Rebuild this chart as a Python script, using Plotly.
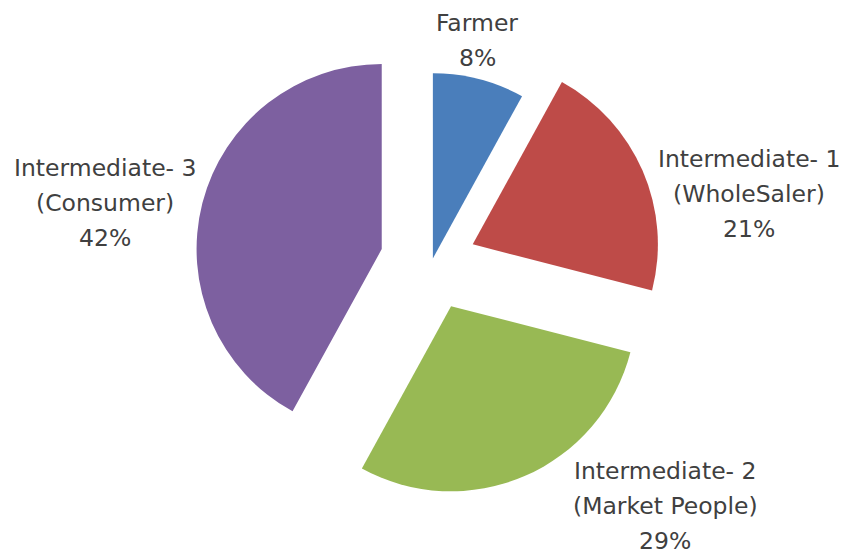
import plotly.graph_objects as go

categories = ["Farmer", "Intermediate- 1<br>(WholeSaler)", "Intermediate- 2<br>(Market People)", "Intermediate- 3<br>(Consumer)"]
values = [8, 21, 29, 42]

colors = ["#4A7EBB", "#BE4B48", "#98B954", "#7D60A0"]
pulls = [0.02, 0.24, 0.26, 0.28]

W, H = 842, 555
M = dict(l=0, r=0, t=25, b=56)
plot_h = H - M["t"] - M["b"]

fig = go.Figure(go.Pie(
    labels=categories,
    values=values,
    sort=False,
    direction="clockwise",
    rotation=0,
    pull=pulls,
    marker=dict(colors=colors, line=dict(width=0)),
    textinfo="none",
    hoverinfo="label+percent",
    domain=dict(x=[0.213, 0.813], y=[0, 1]),
    showlegend=False,
))

# label layout (pixels): x center, first line y center, line spacing
label_pos = [(477, 23), (749, 159), (665, 471), (105, 168)]
line_gap = 35
for cat, val, (px, py) in zip(categories, values, label_pos):
    lines = cat.split("<br>") + [f"{val}%"]
    for i, line in enumerate(lines):
        ypix = py + i * line_gap
        fig.add_annotation(
            x=px / W, y=(H - M["b"] - ypix) / plot_h, xref="paper", yref="paper",
            text=line, showarrow=False,
            font=dict(family="DejaVu Sans", size=23.5, color="#404040"),
            align="center", xanchor="center", yanchor="middle",
        )

fig.update_layout(
    width=W, height=H,
    margin=M,
    paper_bgcolor="white", plot_bgcolor="white",
)
fig.write_html("out.html")
